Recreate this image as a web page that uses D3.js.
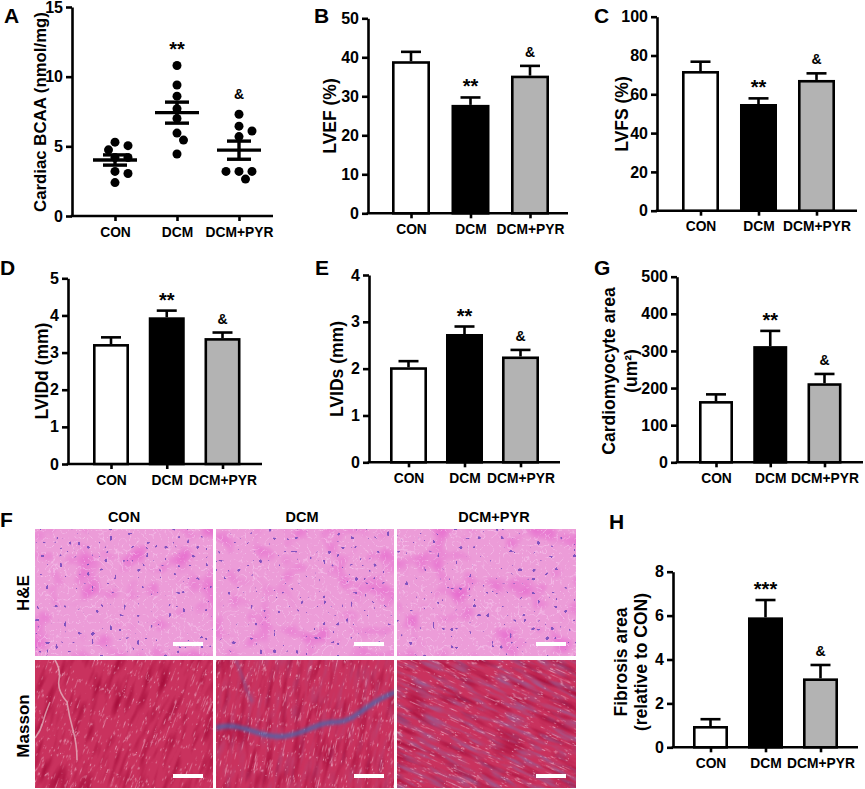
<!DOCTYPE html>
<html>
<head>
<meta charset="utf-8">
<script src="https://cdn.jsdelivr.net/npm/d3@7"></script>
<style>
  body { margin: 0; background: #fff; }
  svg { display: block; }
  text { font-family: "Liberation Sans", Arial, sans-serif; font-weight: bold; fill: #000; }
</style>
</head>
<body>
<div id="chart"></div>
<script>
// ---- data ----
const groups = ['CON', 'DCM', 'DCM+PYR'];

// A: cardiac BCAA, individual animals (nmol/mg)
const bcaaCON = [5.05, 5.3, 4.75, 4.2, 4.2, 3.2, 3.05, 2.4];
const bcaaDCM = [10.8, 9.4, 8.6, 7.7, 7.0, 5.95, 5.45, 4.45];
const bcaaPYR = [7.3, 6.45, 6.1, 5.7, 3.2, 3.2, 3.2, 2.65];

// B-H: mean and SEM per group
const lvefMean = [39.0, 27.8, 35.3];
const lvefSem = [2.4, 1.9, 2.5];
const lvfsMean = [72.0, 55.0, 67.4];
const lvfsSem = [4.8, 2.9, 3.4];
const lviddMean = [3.23, 3.95, 3.39];
const lviddSem = [0.18, 0.18, 0.15];
const lvidsMean = [2.03, 2.74, 2.26];
const lvidsSem = [0.13, 0.16, 0.14];
const areaMean = [165, 313, 213];
const areaSem = [18, 41, 25];
const fibrosisMean = [0.97, 5.92, 3.14];
const fibrosisSem = [0.31, 0.79, 0.61];

// significance labels
const sigStars = ['', '**', '&'];
const sigStars3 = ['', '***', '&'];

// tick values
const ticksA = [0, 5, 10, 15];
const ticksB = [0, 10, 20, 30, 40, 50];
const ticksC = [0, 20, 40, 60, 80, 100];
const ticksD = [0, 1, 2, 3, 4, 5];
const ticksE = [0, 1, 2, 3, 4];
const ticksG = [0, 100, 200, 300, 400, 500];
const ticksH = [0, 2, 4, 6, 8];

// histology rows
const stainRows = ['H&E', 'Masson'];

// ---- drawing ----
const W = 865, H = 789, AX = 2.6;
const barFill = ['#ffffff', '#000000', '#b3b3b3'];

const svg = d3.select('#chart').append('svg')
  .attr('width', W).attr('height', H)
  .attr('viewBox', `0 0 ${W} ${H}`);
const defs = svg.append('defs');

function letter(t, x, y) {
  svg.append('text').attr('x', x).attr('y', y).attr('font-size', 21).text(t);
}

function yTitle(lines, xs, cy, size = 17.5) {
  lines.forEach((l, i) => {
    svg.append('text')
      .attr('transform', `translate(${xs[i]},${cy}) rotate(-90)`)
      .attr('text-anchor', 'middle')
      .attr('dy', '0.36em')
      .attr('font-size', size)
      .text(l);
  });
}

function axes(cfg) {
  const y = d3.scaleLinear().domain([0, cfg.max]).range([cfg.yBot, cfg.yTop]);
  const x = d3.scalePoint().domain(groups).range(cfg.cat);
  const g = svg.append('g');

  const ya = g.append('g')
    .attr('transform', `translate(${cfg.x0},0)`)
    .call(d3.axisLeft(y).tickValues(cfg.ticks).tickFormat(d3.format('d'))
      .tickSize(6).tickSizeOuter(0).tickPadding(3));
  ya.attr('font-family', null).attr('font-size', 16).attr('font-weight', 'bold');
  ya.select('.domain').attr('stroke-width', AX);
  ya.selectAll('.tick line').attr('stroke-width', AX);

  g.append('line')
    .attr('x1', cfg.x0 - AX / 2).attr('x2', cfg.x1)
    .attr('y1', cfg.yBot).attr('y2', cfg.yBot)
    .attr('stroke', '#000').attr('stroke-width', AX);
  const xa = g.append('g')
    .attr('transform', `translate(0,${cfg.yBot})`)
    .call(d3.axisBottom(x).tickSize(5).tickPadding(6));
  xa.attr('font-family', null).attr('font-size', 13.8).attr('font-weight', 'bold');
  xa.select('.domain').remove();
  xa.selectAll('.tick line').attr('stroke-width', AX);

  return { g, x, y };
}

function mark(g, t, x, yTop) {
  if (!t) return;
  const isAmp = t === '&';
  g.append('text')
    .attr('x', x)
    .attr('y', yTop - (isAmp ? 9 : 4))
    .attr('text-anchor', 'middle')
    .attr('font-size', isAmp ? 14 : 20)
    .text(t);
}

function barPanel(cfg) {
  const { g, x, y } = axes(cfg);
  const half = cfg.bw / 2;
  groups.forEach((k, i) => {
    const cx = x(k), top = y(cfg.means[i]), err = y(cfg.means[i] + cfg.sems[i]);
    g.append('line').attr('x1', cx).attr('x2', cx).attr('y1', top).attr('y2', err)
      .attr('stroke', '#000').attr('stroke-width', AX);
    g.append('line').attr('x1', cx - 10).attr('x2', cx + 10).attr('y1', err).attr('y2', err)
      .attr('stroke', '#000').attr('stroke-width', AX);
    g.append('rect')
      .attr('x', cx - half + AX / 2).attr('y', top + AX / 2)
      .attr('width', cfg.bw - AX).attr('height', Math.max(0, cfg.yBot - top - AX / 2))
      .attr('fill', barFill[i]).attr('stroke', '#000').attr('stroke-width', AX);
    mark(g, cfg.marks[i], cx, err);
  });
}

function scatterPanel(cfg) {
  const { g, x, y } = axes(cfg);
  const r = 4.5;
  cfg.series.forEach((vals, i) => {
    const cx = x(groups[i]);
    // simple beeswarm so dots do not overlap
    const placed = [];
    vals.slice().sort((a, b) => b - a).forEach(v => {
      const py = y(v);
      const offs = [0, 6.5, -6.5, 13, -13, 19.5, -19.5];
      let ox = offs.find(o => placed.every(p => Math.hypot(p[0] - o, p[1] - py) >= 2 * r - 0.5));
      if (ox === undefined) ox = 0;
      placed.push([ox, py]);
    });
    g.selectAll(null).data(placed).join('circle')
      .attr('cx', d => cx + d[0]).attr('cy', d => d[1]).attr('r', r).attr('fill', '#000');

    const m = d3.mean(vals), s = d3.deviation(vals) / Math.sqrt(vals.length);
    g.append('line').attr('x1', cx - 22).attr('x2', cx + 22).attr('y1', y(m)).attr('y2', y(m))
      .attr('stroke', '#000').attr('stroke-width', 3.4);
    g.append('line').attr('x1', cx).attr('x2', cx).attr('y1', y(m - s)).attr('y2', y(m + s))
      .attr('stroke', '#000').attr('stroke-width', 3.4);
    [m - s, m + s].forEach(v => {
      g.append('line').attr('x1', cx - 12).attr('x2', cx + 12).attr('y1', y(v)).attr('y2', y(v))
        .attr('stroke', '#000').attr('stroke-width', 3.4);
    });
    mark(g, cfg.marks[i], cx, y(d3.max(vals)) - 6);
  });
}

// ---- panels ----
scatterPanel({ x0: 72, x1: 273, yTop: 7, yBot: 216, max: 15, ticks: ticksA, cat: [115, 239],
  series: [bcaaCON, bcaaDCM, bcaaPYR], marks: sigStars });
letter('A', 4, 23);
yTitle(['Cardiac BCAA (nmol/mg)'], [40], 112, 16.8);

barPanel({ x0: 368, x1: 568, yTop: 18.3, yBot: 213.3, max: 50, ticks: ticksB, cat: [411, 530], bw: 38,
  means: lvefMean, sems: lvefSem, marks: sigStars });
letter('B', 314, 23);
yTitle(['LVEF (%)'], [330], 116);

barPanel({ x0: 657, x1: 857, yTop: 16.7, yBot: 210.7, max: 100, ticks: ticksC, cat: [700.5, 816.5], bw: 37,
  means: lvfsMean, sems: lvfsSem, marks: sigStars });
letter('C', 594, 23);
yTitle(['LVFS (%)'], [622], 114);

barPanel({ x0: 68, x1: 262, yTop: 278.3, yBot: 464, max: 5, ticks: ticksD, cat: [111, 222.5], bw: 36,
  means: lviddMean, sems: lviddSem, marks: sigStars });
letter('D', 0, 275);
yTitle(['LVIDd (mm)'], [42], 371);

barPanel({ x0: 369, x1: 560, yTop: 275, yBot: 462.3, max: 4, ticks: ticksE, cat: [408.5, 520.5], bw: 37,
  means: lvidsMean, sems: lvidsSem, marks: sigStars });
letter('E', 315, 275);
yTitle(['LVIDs (mm)'], [337], 369);

barPanel({ x0: 677, x1: 863, yTop: 276.7, yBot: 462.3, max: 500, ticks: ticksG, cat: [716, 824.5], bw: 34,
  means: areaMean, sems: areaSem, marks: sigStars });
letter('G', 594, 275);
yTitle(['Cardiomyocyte area', '(um\u00B2)'], [609, 631], 371);

barPanel({ x0: 673, x1: 858, yTop: 571.7, yBot: 747.3, max: 8, ticks: ticksH, cat: [710.5, 820.5], bw: 35,
  means: fibrosisMean, sems: fibrosisSem, marks: sigStars3 });
letter('H', 609, 529);
yTitle(['Fibrosis area', '(relative to CON)'], [621, 641], 662);

// ---- F: histology (procedural tissue textures) ----
letter('F', 0, 527);
const cols = [
  { x: 35, w: 178, lx: 124, seed: 3, ang: -70, blue: 0.0 },
  { x: 216, w: 178, lx: 302, seed: 11, ang: -78, blue: 0.1 },
  { x: 397, w: 179, lx: 494, seed: 23, ang: 24, blue: 0.32 }
];
const rows = [{ y: 529, h: 127, cy: 593 }, { y: 660, h: 128, cy: 726 }];

groups.forEach((k, i) => {
  svg.append('text').attr('x', cols[i].lx).attr('y', 522)
    .attr('text-anchor', 'middle').attr('font-size', 14.5).text(k);
});
stainRows.forEach((k, j) => {
  svg.append('text')
    .attr('transform', `translate(23,${rows[j].cy}) rotate(-90)`)
    .attr('text-anchor', 'middle').attr('dy', '0.36em').attr('font-size', 17).text(k);
});

function heFilter(id, seed) {
  const f = defs.append('filter').attr('id', id)
    .attr('x', 0).attr('y', 0).attr('width', 1).attr('height', 1)
    .attr('color-interpolation-filters', 'sRGB');
  f.append('feFlood').attr('flood-color', '#ec9cd8').attr('result', 'base');
  // darker eosin patches
  f.append('feTurbulence').attr('type', 'fractalNoise').attr('baseFrequency', 0.04)
    .attr('numOctaves', 2).attr('seed', seed).attr('result', 'n1');
  f.append('feColorMatrix').attr('in', 'n1').attr('type', 'matrix')
    .attr('values', '0 0 0 0 0.9  0 0 0 0 0.38  0 0 0 0 0.8  2.2 0 0 0 -1.15').attr('result', 'patch');
  // pale cell borders
  f.append('feTurbulence').attr('type', 'turbulence').attr('baseFrequency', 0.13)
    .attr('numOctaves', 2).attr('seed', seed + 7).attr('result', 'n2');
  f.append('feColorMatrix').attr('in', 'n2').attr('type', 'matrix')
    .attr('values', '0 0 0 0 0.98  0 0 0 0 0.84  0 0 0 0 0.96  -4 0 0 0 0.52').attr('result', 'vein');
  // nuclei
  f.append('feTurbulence').attr('type', 'fractalNoise').attr('baseFrequency', 0.22)
    .attr('numOctaves', 1).attr('seed', seed + 13).attr('result', 'n3');
  f.append('feColorMatrix').attr('in', 'n3').attr('type', 'matrix')
    .attr('values', '0 0 0 0 0.5  0 0 0 0 0.32  0 0 0 0 0.75  40 0 0 0 -28.3').attr('result', 'nuc');
  const m = f.append('feMerge');
  ['base', 'patch', 'vein', 'nuc'].forEach(n => m.append('feMergeNode').attr('in', n));
}

function massonFilter(id, seed, blue) {
  const f = defs.append('filter').attr('id', id)
    .attr('x', 0).attr('y', 0).attr('width', 1).attr('height', 1)
    .attr('color-interpolation-filters', 'sRGB');
  f.append('feFlood').attr('flood-color', '#c9325e').attr('result', 'base');
  f.append('feTurbulence').attr('type', 'fractalNoise').attr('baseFrequency', '0.03 0.14')
    .attr('numOctaves', 2).attr('seed', seed).attr('result', 'n1');
  f.append('feColorMatrix').attr('in', 'n1').attr('type', 'matrix')
    .attr('values', '0 0 0 0 0.66  0 0 0 0 0.06  0 0 0 0 0.24  2.5 0 0 0 -1.2').attr('result', 'dark');
  f.append('feTurbulence').attr('type', 'fractalNoise').attr('baseFrequency', '0.04 0.2')
    .attr('numOctaves', 2).attr('seed', seed + 5).attr('result', 'n4');
  f.append('feColorMatrix').attr('in', 'n4').attr('type', 'matrix')
    .attr('values', `0 0 0 0 0.48  0 0 0 0 0.48  0 0 0 0 0.72  ${4 * blue} 0 0 0 ${-1.8 * blue}`).attr('result', 'blue');
  f.append('feTurbulence').attr('type', 'turbulence').attr('baseFrequency', '0.04 0.28')
    .attr('numOctaves', 2).attr('seed', seed + 9).attr('result', 'n2');
  f.append('feColorMatrix').attr('in', 'n2').attr('type', 'matrix')
    .attr('values', '0 0 0 0 0.95  0 0 0 0 0.78  0 0 0 0 0.85  -6 0 0 0 0.62').attr('result', 'vein');
  const m = f.append('feMerge');
  ['base', 'dark', 'blue', 'vein'].forEach(n => m.append('feMergeNode').attr('in', n));
}

const blur = defs.append('filter').attr('id', 'soft').attr('x', -0.2).attr('y', -0.5).attr('width', 1.4).attr('height', 2);
blur.append('feGaussianBlur').attr('stdDeviation', 1.5);

cols.forEach((c, i) => {
  // H&E
  const he = rows[0];
  heFilter(`he${i}`, c.seed);
  svg.append('rect').attr('x', c.x).attr('y', he.y).attr('width', c.w).attr('height', he.h)
    .attr('fill', '#ec9cd8').attr('filter', `url(#he${i})`);

  // Masson trichrome, fibres rotated
  const ms = rows[1];
  const clipId = `clip${i}`;
  defs.append('clipPath').attr('id', clipId).append('rect')
    .attr('x', c.x).attr('y', ms.y).attr('width', c.w).attr('height', ms.h);
  massonFilter(`ms${i}`, c.seed, c.blue);
  const cx = c.x + c.w / 2, cy = ms.y + ms.h / 2, big = 260;
  const mg = svg.append('g').attr('clip-path', `url(#${clipId})`);
  mg.append('g').attr('transform', `rotate(${c.ang},${cx},${cy})`)
    .append('rect').attr('x', cx - big / 2).attr('y', cy - big / 2).attr('width', big).attr('height', big)
    .attr('fill', '#c9325e').attr('filter', `url(#ms${i})`);

  if (i === 0) {
    mg.append('path').attr('d', `M${c.x + 20},${ms.y} q6,10 4,20 t8,22 q2,14 6,28 t4,30`)
      .attr('fill', 'none').attr('stroke', '#ead0d4').attr('stroke-width', 1.6).attr('opacity', 0.65);
    mg.append('path').attr('d', `M${c.x},${ms.y + 78} q6,-8 8,-16 t7,-20`)
      .attr('fill', 'none').attr('stroke', '#ead0d4').attr('stroke-width', 1.5).attr('opacity', 0.65);
  }
  if (i === 1) {
    mg.append('path')
      .attr('d', `M${c.x},${ms.y + 68} C${c.x + 25},${ms.y + 60} ${c.x + 45},${ms.y + 80} ${c.x + 70},${ms.y + 76} S${c.x + 100},${ms.y + 62} ${c.x + 120},${ms.y + 62} S${c.x + 150},${ms.y + 42} ${c.x + 180},${ms.y + 32}`)
      .attr('fill', 'none').attr('stroke', '#4a67ad').attr('stroke-width', 5).attr('opacity', 0.75)
      .attr('filter', 'url(#soft)');
    mg.append('path')
      .attr('d', `M${c.x + 20},${ms.y} C${c.x + 26},${ms.y + 15} ${c.x + 30},${ms.y + 30} ${c.x + 36},${ms.y + 42}`)
      .attr('fill', 'none').attr('stroke', '#5a70b0').attr('stroke-width', 2).attr('opacity', 0.55)
      .attr('filter', 'url(#soft)');
  }

  // scale bars
  rows.forEach(r => {
    svg.append('rect').attr('x', c.x + c.w - 40).attr('y', r.y + r.h - 14)
      .attr('width', 30).attr('height', 4).attr('fill', '#fff');
  });
});
</script>
</body>
</html>
